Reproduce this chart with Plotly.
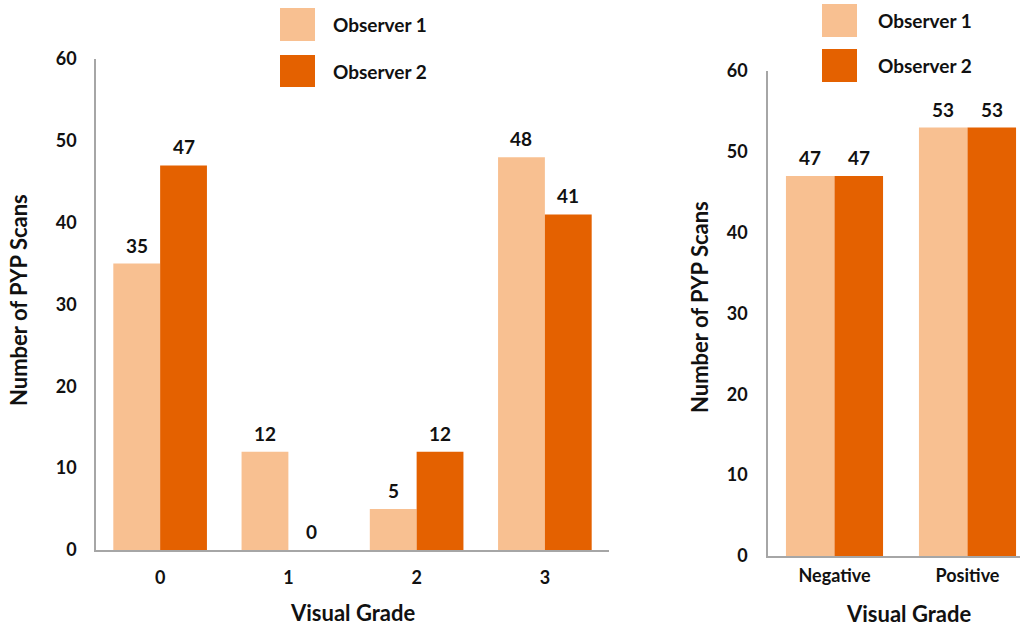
import plotly.graph_objects as go

grades = ["0", "1", "2", "3"]
obs1_grade = [35, 12, 5, 48]
obs2_grade = [47, 0, 12, 41]

binary = ["Negative", "Positive"]
obs1_bin = [47, 53]
obs2_bin = [47, 53]

series_names = ["Observer 1", "Observer 2"]
colors = ["#F8C091", "#E46100"]
FONT = "Lato"
W, H = 1020, 627

fig = go.Figure()

label_font = dict(family=FONT, size=19, color="#111111", weight="bold")

def add_bars(x, ys, xa, ya, cat_px, bargap):
    bar_px = cat_px * (1 - bargap) / len(ys)
    for i, (name, y, c) in enumerate(zip(series_names, ys, colors)):
        fig.add_trace(go.Bar(
            x=x, y=y, name=name, marker=dict(color=c, line=dict(width=0)),
            xaxis=xa, yaxis=ya, showlegend=False))
        shift = (i - (len(ys) - 1) / 2) * bar_px
        for xv, yv in zip(x, y):
            fig.add_annotation(x=xv, y=yv, xref=xa, yref=ya, text=str(yv),
                               showarrow=False, xshift=shift, yshift=18.5,
                               xanchor="center", yanchor="middle", font=label_font)

BARGAP = 0.27
add_bars(grades, [obs1_grade, obs2_grade], "x", "y", (609 - 96) / 4, BARGAP)
add_bars(binary, [obs1_bin, obs2_bin], "x2", "y2", 133, BARGAP)

tickfont = dict(family=FONT, size=18, color="#111111", weight="bold")
axis_line = dict(showline=True, linecolor="#A6A6A6", linewidth=1.5, showgrid=False,
                 zeroline=False, ticks="", tickfont=tickfont, automargin=False)

fig.update_layout(
    template="none",
    width=W, height=H, margin=dict(l=0, r=0, t=0, b=0, pad=0, autoexpand=False),
    paper_bgcolor="white", plot_bgcolor="white", showlegend=False,
    barmode="group", bargap=BARGAP, bargroupgap=0,
    xaxis=dict(domain=[96/W, 609/W], range=[-0.5, 3.5], anchor="y",
               ticklabelstandoff=11, **axis_line),
    yaxis=dict(domain=[(H-550)/H, (H-59)/H], range=[0, 60], dtick=10,
               anchor="x", ticklabelstandoff=14, **axis_line),
    xaxis2=dict(domain=[768/W, 1.0], range=[-0.5, (W-768)/133 - 0.5], anchor="y2",
                ticklabelstandoff=3, **axis_line),
    yaxis2=dict(domain=[(H-556)/H, (H-71)/H], range=[0, 60], dtick=10,
                anchor="x2", ticklabelstandoff=15, **axis_line),
    font=dict(family=FONT),
)

title_font = dict(family=FONT, size=22, color="#111111", weight="bold")
# axis titles
fig.add_annotation(text="Number of PYP Scans", x=18/W, y=1-300/H, xref="paper", yref="paper",
                   textangle=-90, showarrow=False, font=title_font, xanchor="center", yanchor="middle")
fig.add_annotation(text="Number of PYP Scans", x=700/W, y=1-307/H, xref="paper", yref="paper",
                   textangle=-90, showarrow=False, font=title_font, xanchor="center", yanchor="middle")
fig.add_annotation(text="Visual Grade", x=352/W, y=1-612/H, xref="paper", yref="paper",
                   showarrow=False, font=title_font, xanchor="center", yanchor="middle")
fig.add_annotation(text="Visual Grade", x=908/W, y=1-613/H, xref="paper", yref="paper",
                   showarrow=False, font=title_font, xanchor="center", yanchor="middle")

# legends (two custom legends)
leg_font = dict(family=FONT, size=19, color="#111111", weight="bold")
def legend(x0, ys, tx):
    for (y0, y1), name, c in zip(ys, series_names, colors):
        fig.add_shape(type="rect", xref="paper", yref="paper",
                      x0=x0/W, x1=(x0+35)/W, y0=1-y1/H, y1=1-y0/H,
                      fillcolor=c, line=dict(width=0))
        fig.add_annotation(text=name, x=tx/W, y=1-((y0+y1)/2)/H, xref="paper", yref="paper",
                           showarrow=False, font=leg_font, xanchor="left", yanchor="middle")

legend(280, [(8, 41), (55, 87)], 331)
legend(822, [(4, 37), (49, 82)], 876)

fig.write_html("out.html")
